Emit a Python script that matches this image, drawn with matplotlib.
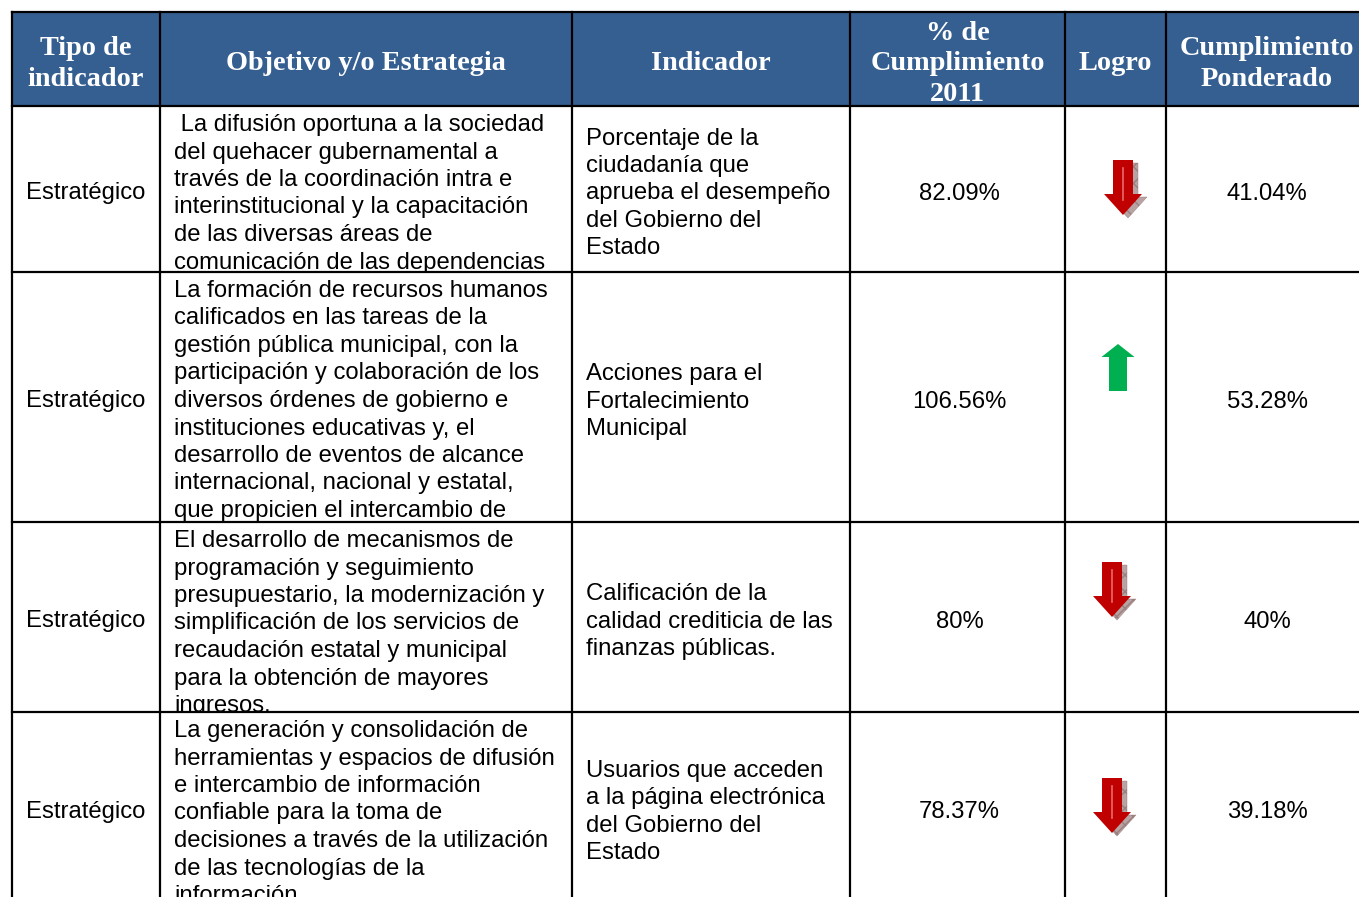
import matplotlib
matplotlib.use("Agg")
import matplotlib.pyplot as plt
from matplotlib.patches import Rectangle, Polygon
from matplotlib.transforms import Bbox, TransformedBbox

# datos de la tabla
headers = ['Tipo de\nindicador', 'Objetivo y/o Estrategia', 'Indicador',
           '% de\nCumplimiento\n2011', 'Logro', 'Cumplimiento\nPonderado']
tipos = ['Estratégico', 'Estratégico', 'Estratégico', 'Estratégico']
objetivos = [
    [' La difusión oportuna a la sociedad', 'del quehacer gubernamental a',
     'través de la coordinación intra e', 'interinstitucional y la capacitación',
     'de las diversas áreas de', 'comunicación de las dependencias'],
    ['La formación de recursos humanos', 'calificados en las tareas de la',
     'gestión pública municipal, con la', 'participación y colaboración de los',
     'diversos órdenes de gobierno e', 'instituciones educativas y, el',
     'desarrollo de eventos de alcance', 'internacional, nacional y estatal,',
     'que propicien el intercambio de'],
    ['El desarrollo de mecanismos de', 'programación y seguimiento',
     'presupuestario, la modernización y', 'simplificación de los servicios de',
     'recaudación estatal y municipal', 'para la obtención de mayores',
     'ingresos.'],
    ['La generación y consolidación de', 'herramientas y espacios de difusión',
     'e intercambio de información', 'confiable para la toma de',
     'decisiones a través de la utilización', 'de las tecnologías de la',
     'información.'],
]
indicadores = [
    ['Porcentaje de la', 'ciudadanía que', 'aprueba el desempeño',
     'del Gobierno del', 'Estado'],
    ['Acciones para el', 'Fortalecimiento', 'Municipal'],
    ['Calificación de la', 'calidad crediticia de las', 'finanzas públicas.'],
    ['Usuarios que acceden', 'a la página electrónica', 'del Gobierno del',
     'Estado'],
]
cumplimiento = ['82.09%', '106.56%', '80%', '78.37%']
logro = ['baja', 'sube', 'baja', 'baja']
ponderado = ['41.04%', '53.28%', '40%', '39.18%']

# layout (pixeles)
col_x = [12, 160, 572, 850, 1065, 1166, 1368]
row_y = [12, 106, 272, 522, 712, 903]
arrow_x = [1123, 1118, 1112, 1112]
arrow_top = [160, 344, 562, 778]
step = 27.5
header_bg = '#365F91'
body_font = 'Liberation Sans'
fs = 17.2

fig = plt.figure(figsize=(13.59, 8.97), dpi=100)
ax = fig.add_axes([0, 0, 1, 1])
ax.set_xlim(0, 1359)
ax.set_ylim(897, 0)
ax.axis('off')

# cabecera
ax.add_patch(Rectangle((col_x[0], row_y[0]), col_x[-1] - col_x[0], row_y[1] - row_y[0],
                       facecolor=header_bg, edgecolor='none'))
hmid = (row_y[0] + row_y[1]) / 2
for i, h in enumerate(headers):
    cx = (col_x[i] + col_x[i + 1]) / 2
    ax.text(cx, hmid + 5, h, ha='center', va='center', color='white',
            fontsize=20.3, fontweight='bold', family='Liberation Serif',
            linespacing=1.3)


def cell_clip(c, r):
    bb = Bbox([[col_x[c], row_y[r + 1]], [col_x[c + 1], row_y[r + 2]]])
    return TransformedBbox(bb, ax.transData)


def put_lines(lines, x, top, c, r, ha='left'):
    for k, s in enumerate(lines):
        t = ax.text(x, top + k * step + 8.5, s, ha=ha, va='baseline',
                    fontsize=fs, family=body_font, color='black', clip_on=True)
        t.set_clip_box(cell_clip(c, r))


def arrow(xc, y0, kind):
    if kind == 'baja':
        sw, hw, sl, hl = 10, 19, 34, 21
        pts = [(xc - sw, y0), (xc + sw, y0), (xc + sw, y0 + sl), (xc + hw, y0 + sl),
               (xc, y0 + sl + hl), (xc - hw, y0 + sl), (xc - sw, y0 + sl)]
        shadow = [(x + 5, y + 3) for x, y in pts]
        ax.add_patch(Polygon(shadow, closed=True, facecolor='#b8a2a2',
                             edgecolor='#9a7f7f', hatch='xx', lw=0.3))
        ax.add_patch(Polygon(pts, closed=True, facecolor='#C00000', edgecolor='none'))
        ax.plot([xc, xc], [y0 + 8, y0 + sl + 6], color='#e86a6a', lw=1.2)
    else:
        sw, hw, sl, hl = 9, 16.5, 34, 13
        pts = [(xc, y0), (xc + hw, y0 + hl), (xc + sw, y0 + hl), (xc + sw, y0 + hl + sl),
               (xc - sw, y0 + hl + sl), (xc - sw, y0 + hl), (xc - hw, y0 + hl)]
        ax.add_patch(Polygon(pts, closed=True, facecolor='#00B050', edgecolor='none'))


for r in range(len(tipos)):
    top = row_y[r + 1]
    mid = (row_y[r + 1] + row_y[r + 2]) / 2 + 2
    put_lines([tipos[r]], (col_x[0] + col_x[1]) / 2, mid, 0, r, ha='center')
    put_lines(objetivos[r], col_x[1] + 14, top + 16.5, 1, r)
    ind = indicadores[r]
    put_lines(ind, col_x[2] + 14, mid - (len(ind) - 1) * step / 2, 2, r)
    put_lines([cumplimiento[r]], (col_x[3] + col_x[4]) / 2 + 2, mid, 3, r, ha='center')
    arrow(arrow_x[r], arrow_top[r], logro[r])
    put_lines([ponderado[r]], (col_x[5] + col_x[6]) / 2, mid, 5, r, ha='center')

# bordes
lw = 1.6
for y in row_y[:-1]:
    ax.plot([col_x[0], col_x[-1]], [y, y], color='black', lw=lw, solid_capstyle='projecting')
for x in col_x:
    ax.plot([x, x], [row_y[0], row_y[-1]], color='black', lw=lw, solid_capstyle='projecting')

fig.savefig('out.png', dpi=100)
